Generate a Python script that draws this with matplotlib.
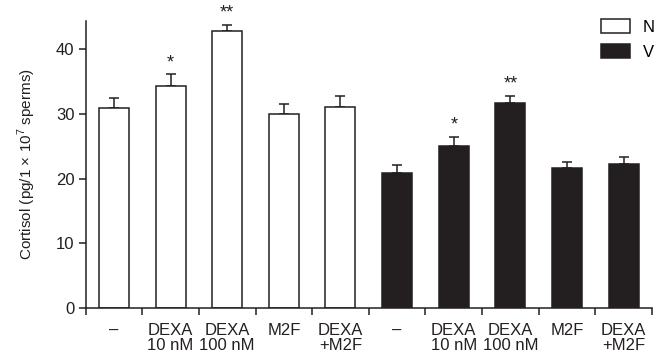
import numpy as np
import matplotlib.pyplot as plt

plt.rcParams['font.family'] = ['Liberation Sans', 'DejaVu Sans']
plt.rcParams['mathtext.fontset'] = 'custom'
plt.rcParams['mathtext.rm'] = 'Liberation Sans'

# Data
labels = ['–', 'DEXA\n10 nM', 'DEXA\n100 nM', 'M2F', 'DEXA\n+M2F']
n_vals = [30.9, 34.3, 42.8, 30.0, 31.1]
n_err = [1.5, 1.8, 1.0, 1.5, 1.7]
v_vals = [20.9, 25.1, 31.6, 21.7, 22.2]
v_err = [1.2, 1.3, 1.2, 0.9, 1.2]
n_marks = ['', '*', '**', '', '']
v_marks = ['', '*', '**', '', '']

dark = '#231f20'
fs = 12

fig = plt.figure(figsize=(6.58, 3.62), dpi=100)
ax = fig.add_axes([0.130, 0.149, 0.861, 0.794])

x_n = np.arange(len(n_vals))
x_v = np.arange(len(v_vals)) + len(n_vals)
w = 0.53

ax.bar(x_n, n_vals, width=w, color='white', edgecolor=dark, linewidth=1.1, label='N', zorder=2)
ax.bar(x_v, v_vals, width=w, color=dark, edgecolor=dark, linewidth=1.1, label='V', zorder=2)
ax.errorbar(x_n, n_vals, yerr=[np.zeros(len(n_err)), n_err], fmt='none',
            ecolor=dark, elinewidth=1.1, capsize=3.5, capthick=1.1, zorder=1)
ax.errorbar(x_v, v_vals, yerr=[np.zeros(len(v_err)), v_err], fmt='none',
            ecolor=dark, elinewidth=1.1, capsize=3.5, capthick=1.1, zorder=1)

for xs, vals, errs, marks in [(x_n, n_vals, n_err, n_marks), (x_v, v_vals, v_err, v_marks)]:
    for xi, v, e, m in zip(xs, vals, errs, marks):
        if m:
            ax.text(xi, v + e + 0.5, m, ha='center', va='bottom', fontsize=13, color=dark)

ax.set_xlim(-0.5, 9.5)
ax.set_ylim(0, 44.4)
ax.set_yticks([0, 10, 20, 30, 40])
ax.set_xticks(np.arange(10))
ax.set_xticklabels(labels + labels, linespacing=1.0)
ax.set_xticks(np.arange(11) - 0.5, minor=True)
ax.tick_params(axis='x', which='major', length=0, pad=11, labelsize=fs, colors=dark)
ax.tick_params(axis='x', which='minor', length=5, width=1.1, direction='out', color=dark)
ax.tick_params(axis='y', length=5, width=1.1, labelsize=fs, pad=3, colors=dark)

for s in ['top', 'right']:
    ax.spines[s].set_visible(False)
for s in ['left', 'bottom']:
    ax.spines[s].set_linewidth(1.1)
    ax.spines[s].set_color(dark)

ax.set_ylabel('Cortisol (pg/1 $\\times$ 10$^7$ sperms)', fontsize=11, labelpad=13, color=dark)

ax.legend(loc='upper right', bbox_to_anchor=(655 / 658, 1 - 19 / 362),
          bbox_transform=fig.transFigure, borderaxespad=0, borderpad=0,
          frameon=False, fontsize=fs, handlelength=1.7, handleheight=0.95,
          handletextpad=0.8, labelspacing=0.55)

fig.savefig('out.png', dpi=100)
